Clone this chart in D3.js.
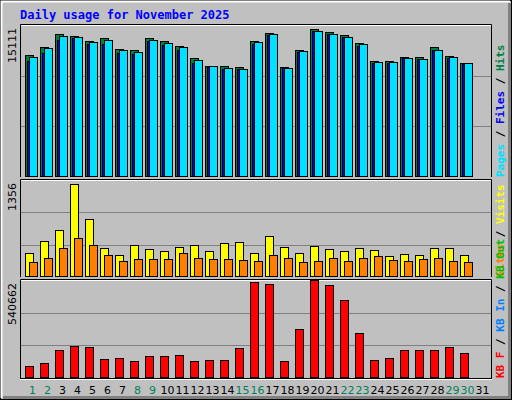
<!DOCTYPE html>
<html><head><meta charset="utf-8">
<script src="https://cdn.jsdelivr.net/npm/d3@7"></script>
<style>body{margin:0;background:#fff}</style>
</head><body>
<script>
// values
const days = d3.range(1, 32);
const weekend = [1, 2, 8, 9, 15, 16, 22, 23, 29, 30];
const hits  = [12130,12920,14210,14015,13520,13820,12720,12625,13820,13520,13020,11830,11035,11035,10935,13520,14315,10935,12625,14710,14415,14115,13320,11530,11530,11930,11930,12920,12030,11330];
const files = [11530,12320,13620,13800,13220,13200,12300,12200,13500,13100,12600,11300,10900,10750,10700,13200,14100,10800,12400,14500,14200,13900,13000,11300,11350,11800,11700,12600,11800,11200];
const pages = [11930,12820,14015,13915,13420,13620,12620,12425,13620,13320,12920,11630,11035,10835,10735,13420,14215,10835,12525,14510,14215,13920,13220,11430,11430,11830,11730,12625,11930,11330];
const visits = [335,503,657,1300,810,405,307,447,391,363,419,447,363,475,489,335,573,419,335,433,391,363,405,377,293,321,307,405,405,307];
const sites  = [210,265,405,545,447,307,223,251,251,251,335,265,251,251,237,223,307,265,210,223,265,223,265,293,237,223,251,265,223,210];
const kbF = [66200,82750,154500,176500,171000,104800,110300,93800,121400,121400,126900,93800,99300,99300,165500,529600,518600,93800,270300,540662,513100,430300,248300,99300,110300,154500,154500,154500,171000,138000];
const maxHits = 15111, maxVisits = 1356, maxKB = 540662;

const svg = d3.select("body").append("svg").attr("width", 512).attr("height", 400)
    .style("font-family", "DejaVu Sans Mono, monospace");

svg.append("rect").attr("width", 512).attr("height", 400).attr("fill", "#c0c0c0");
svg.append("rect").attr("x", 0.5).attr("y", 0.5).attr("width", 511).attr("height", 399).attr("fill", "none").attr("stroke", "#000");
svg.append("path").attr("d", "M1.5,398V1.5H510").attr("stroke", "#fff").attr("stroke-width", 2).attr("fill", "none");
svg.append("path").attr("d", "M3,397.5H509.5V3").attr("stroke", "#808080").attr("stroke-width", 3).attr("fill", "none");

svg.append("text").attr("x", 20).attr("y", 19).text("Daily usage for November 2025")
    .attr("fill", "#0000ff").attr("font-weight", "bold").attr("font-size", 12);

const x = d3.scaleBand().domain(days).range([22, 487]).paddingInner(0);
const slot = d => x(d) + 3;

function panel(top, bottom, max, label) {
    const y = d3.scaleLinear().domain([0, max]).range([bottom, top]);
    svg.append("path").attr("d", `M20.5,${bottom}V${top - 1}.5H491.5V${bottom}`).attr("stroke", "#000").attr("fill", "none");
    svg.append("path").attr("d", `M21,${top}.5H491`).attr("stroke", "#fff").attr("fill", "none");
    [1, 2].forEach(k => {
        const gy = Math.round(bottom - (bottom - top) * k / 3) + 0.5;
        svg.append("line").attr("x1", 21).attr("x2", 491).attr("y1", gy).attr("y2", gy).attr("stroke", "#808080");
    });
    svg.append("text").attr("transform", `translate(16,${top + 3}) rotate(-90)`).attr("text-anchor", "end")
        .attr("font-size", 11).attr("fill", "#000").attr("font-family", "DejaVu Sans, sans-serif").text(label);
    return y;
}

function bars(data, y, dx, w, color) {
    svg.append("g").selectAll("rect").data(data).join("rect")
        .attr("x", (d, i) => slot(i + 1) + dx + 0.5).attr("width", w)
        .attr("y", d => Math.round(y(d)) + 0.5).attr("height", d => y(0) - Math.round(y(d)) - 1)
        .attr("fill", color).attr("stroke", "#000");
}

const y1 = panel(25, 177, maxHits, d3.format("d")(maxHits));
bars(hits, y1, 0, 8, "#008040");
bars(files, y1, 2, 7, "#0000ff");
bars(pages, y1, 4, 8, "#00e0ff");

const y2 = panel(180, 277, maxVisits, maxVisits);
bars(visits, y2, 0, 8, "#ffff00");
bars(sites, y2, 4, 8, "#ff8000");

const y3 = panel(280, 378, maxKB, maxKB);
bars(kbF, y3, 0, 8, "#ff0000");
svg.append("line").attr("x1", 20).attr("x2", 492).attr("y1", 378.5).attr("y2", 378.5).attr("stroke", "#000");
svg.append("line").attr("x1", 20).attr("x2", 492).attr("y1", 379.5).attr("y2", 379.5).attr("stroke", "#fff");

svg.append("g").selectAll("text").data(days).join("text")
    .attr("x", d => x(d) + x.bandwidth() / 2 + 3).attr("y", 394).attr("text-anchor", "middle")
    .attr("font-size", 11).attr("font-family", "DejaVu Sans, sans-serif")
    .attr("fill", d => weekend.includes(d) ? "#00805c" : "#000").text(d => d);

function legend(yEnd, parts) {
    const t = svg.append("text").attr("transform", `translate(504,${yEnd}) rotate(-90)`)
        .attr("font-size", 11).attr("font-weight", "bold");
    parts.forEach(([s, c]) => t.append("tspan").attr("fill", c).text(s));
}
legend(177, [["Pages", "#00e0ff"], [" / ", "#000"], ["Files", "#0000ff"], [" / ", "#000"], ["Hits", "#008040"]]);
legend(277, [["Sites", "#ff8000"], [" / ", "#000"], ["Visits", "#ffff00"]]);
legend(378, [["KB F", "#ff0000"], [" / ", "#000"], ["KB In", "#0080ff"], [" / ", "#000"], ["KB Out", "#00c000"]]);
</script>
</body></html>
